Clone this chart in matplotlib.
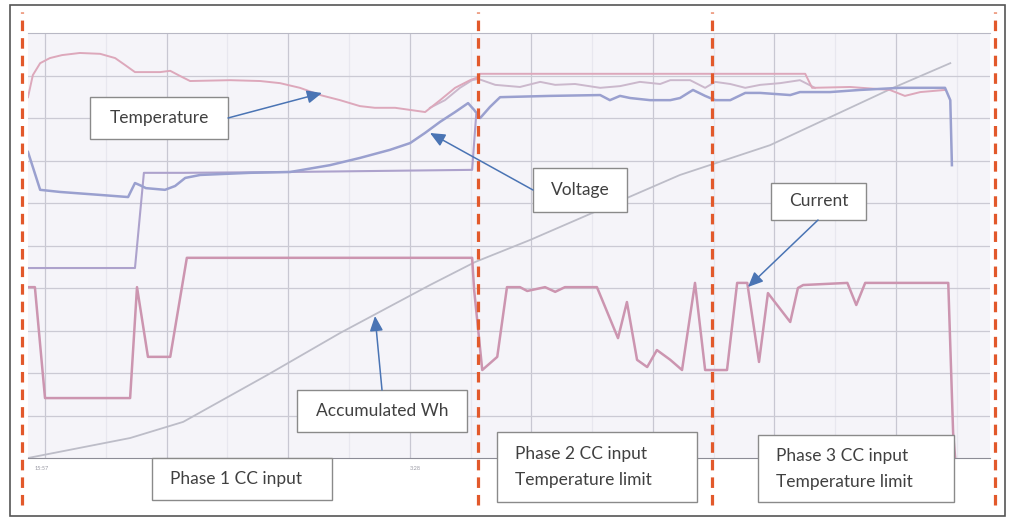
import matplotlib.pyplot as plt
from matplotlib.patches import Rectangle

# readings: time in minutes, values in % of full scale
temp_t = [-4.2, -3.0, -1.2, 1.2, 4.2, 8.6, 13.6, 17.3, 19.7, 22.2, 28.4, 30.9, 33.3, 35.8,
          45.7, 53.1, 58.0, 62.9, 67.9, 72.8, 77.7, 81.4, 86.4, 90.1, 93.8, 97.5, 101.2,
          104.9, 106.9, 107.4, 187.6, 189.3, 198.7, 208.5, 212.2, 216.0, 222.1]
temp_v = [84.9, 90.1, 92.9, 94.1, 94.8, 95.3, 95.1, 94.1, 92.5, 90.8, 90.8, 91.1, 89.9, 88.7,
          88.9, 88.7, 88.2, 87.1, 85.4, 84.2, 82.8, 82.4, 82.4, 81.9, 81.4, 84.2, 87.1,
          88.9, 89.6, 90.4, 90.4, 87.1, 87.3, 86.6, 85.2, 86.1, 86.6]

temp2_t = [95.0, 98.7, 102.4, 105.4, 106.9, 111.1, 117.2, 122.2, 125.9, 130.8, 137.0, 141.9,
           146.8, 151.8, 154.3, 159.2, 162.9, 165.4, 169.1, 172.8, 176.5, 181.4, 186.3, 190.0]
temp2_v = [82.4, 84.2, 87.1, 88.9, 89.2, 87.8, 87.3, 88.5, 87.8, 88.0, 87.1, 87.5,
           88.5, 88.0, 88.9, 88.9, 87.1, 88.5, 88.0, 87.1, 87.8, 88.2, 88.9, 87.1]

volt_t = [-4.2, -1.2, 3.7, 13.6, 20.5, 22.2, 23.4, 24.9, 29.6, 32.1, 34.6, 38.3, 50.6, 60.5,
          70.3, 77.7, 85.1, 90.1, 93.8, 97.5, 101.2, 104.4, 105.9, 107.4, 109.8, 112.3, 124.6,
          137.0, 139.4, 141.9, 144.4, 149.3, 154.3, 156.7, 159.9, 162.9, 165.4, 169.1, 172.8,
          176.5, 183.9, 186.3, 193.7, 201.1, 211.0, 222.1, 223.4, 223.8]
volt_v = [72.0, 63.1, 62.6, 61.9, 61.4, 64.7, 64.2, 63.5, 63.1, 64.0, 65.9, 66.6, 67.1, 67.3,
          68.9, 70.6, 72.5, 74.1, 76.5, 79.1, 81.4, 83.5, 81.9, 80.0, 82.6, 84.9, 85.2,
          85.4, 84.2, 85.2, 84.7, 84.2, 84.2, 84.7, 86.6, 85.2, 84.2, 84.2, 85.9,
          85.9, 85.4, 86.1, 86.1, 86.6, 87.1, 87.1, 84.2, 68.9]

power_t = [-4.2, 22.2, 24.4, 34.1, 60.5, 105.4, 106.4]
power_v = [44.7, 44.7, 67.1, 67.1, 67.3, 67.8, 80.7]

curr_t = [-4.2, -2.5, 0.0, 21.0, 22.7, 25.4, 30.9, 35.0, 105.4, 105.9, 107.9, 111.6, 114.0,
          117.2, 119.0, 123.4, 125.9, 128.3, 136.2, 141.4, 143.6, 146.1, 148.6, 151.0, 154.3,
          157.2, 160.4, 162.9, 168.3, 170.8, 173.3, 176.2, 178.4, 183.9, 185.8, 187.1, 198.0,
          200.2, 202.4, 222.9, 224.1, 224.6]
curr_v = [40.2, 40.2, 14.1, 14.1, 40.2, 23.8, 23.8, 47.1, 47.1, 39.5, 20.7, 23.8, 40.2,
          40.2, 39.3, 40.2, 39.1, 40.2, 40.2, 28.2, 36.7, 23.1, 21.4, 25.4, 23.1,
          20.7, 41.2, 20.7, 20.7, 41.2, 41.2, 22.6, 38.8, 32.0, 40.0, 40.7, 41.2,
          36.0, 41.2, 41.2, 5.9, 0.0]

wh_t = [-4.2, 21.0, 34.1, 54.8, 72.8, 95.0, 106.1, 119.7, 156.7, 178.9, 209.3, 223.4]
wh_v = [0.0, 4.7, 8.5, 19.5, 29.4, 40.7, 46.1, 51.3, 66.6, 73.6, 87.1, 92.9]

phase_bounds = [-5.7, 106.9, 164.6, 234.5]
tick_t = [-0.7, 91.3]
tick_labels = ['15:57', '3:28']

plt.rcParams['font.family'] = ['Lato', 'DejaVu Sans']
fig = plt.figure(figsize=(10.11, 5.18), dpi=100)

ax = fig.add_axes([28 / 1011, 60 / 518, 962 / 1011, 425 / 518])
ax.set_facecolor('#f5f4f9')
ax.set_xlim(-4.2, 233.2)
ax.set_ylim(0, 100)
for x in range(0, 231, 15):
    ax.axvline(x, color='#c8c7d2' if x % 30 == 0 else '#e8e7ef', lw=0.9, zorder=0)
for y in range(10, 100, 10):
    ax.axhline(y, color='#cbcad4', lw=0.9, zorder=0)
for s in ['left', 'right']:
    ax.spines[s].set_visible(False)
ax.spines['top'].set_color('#b8b8c4')
ax.spines['bottom'].set_color('#8c8c96')
ax.set_xticks([])
ax.set_yticks([])

ax.plot(wh_t, wh_v, color='#bdbdc8', lw=1.3)
ax.plot(power_t, power_v, color='#ada2cc', lw=1.5)
ax.plot(temp2_t, temp2_v, color='#cbb8cc', lw=1.4)
ax.plot(temp_t, temp_v, color='#dda8bb', lw=1.4)
ax.plot(volt_t, volt_v, color='#9aa0cf', lw=1.8)
ax.plot(curr_t, curr_v, color='#cc95b0', lw=1.8)

for x in phase_bounds:
    ax.axvline(x, ymin=-0.11, ymax=1.05, color='#e2592b', lw=2.3,
               ls=(0, (3.3, 2.2)), clip_on=False, zorder=5)

for t, lab in zip(tick_t, tick_labels):
    ax.text(t, -2.4, lab, fontsize=4, color='#9a9aa4', ha='center', va='center', clip_on=False)

# annotation layer in figure pixels
ov = fig.add_axes([0, 0, 1, 1], zorder=10)
ov.set_xlim(0, 1011)
ov.set_ylim(518, 0)
ov.axis('off')
ov.patch.set_alpha(0)
ov.add_patch(Rectangle((10, 5), 995, 511, fill=False, ec='#555555', lw=1.2))

boxes = [
    ((90, 97, 138, 42), ['Temperature'], 'center'),
    ((533, 168, 94, 44), ['Voltage'], 'center'),
    ((771, 183, 95, 37), ['Current'], 'center'),
    ((297, 390, 170, 42), ['Accumulated Wh'], 'center'),
    ((152, 458, 180, 42), ['Phase 1 CC input'], 'left'),
    ((497, 432, 200, 70), ['Phase 2 CC input', 'Temperature limit'], 'left'),
    ((758, 435, 196, 67), ['Phase 3 CC input', 'Temperature limit'], 'left'),
]
for (x, y, w, h), lines, align in boxes:
    ov.add_patch(Rectangle((x, y), w, h, fc='white', ec='#8a8a8a', lw=1.0))
    if align == 'center':
        ov.text(x + w / 2, y + h / 2, lines[0], ha='center', va='center',
                fontsize=12.5, color='#404040')
    else:
        n = len(lines)
        for i, s in enumerate(lines):
            yy = y + h / 2 + (i - (n - 1) / 2) * 26
            ov.text(x + 18, yy, s, ha='left', va='center', fontsize=12.5, color='#404040')

arrows = [((228, 118), (322, 93)), ((533, 190), (430, 133)),
          ((818, 220), (748, 287)), ((382, 390), (375, 316))]
for (x0, y0), (x1, y1) in arrows:
    ov.annotate('', xy=(x1, y1), xytext=(x0, y0),
                arrowprops=dict(arrowstyle='-|>,head_length=0.9,head_width=0.4',
                                color='#4a74b4', lw=1.1, shrinkA=0, shrinkB=0))

fig.savefig('out.png', dpi=100)
